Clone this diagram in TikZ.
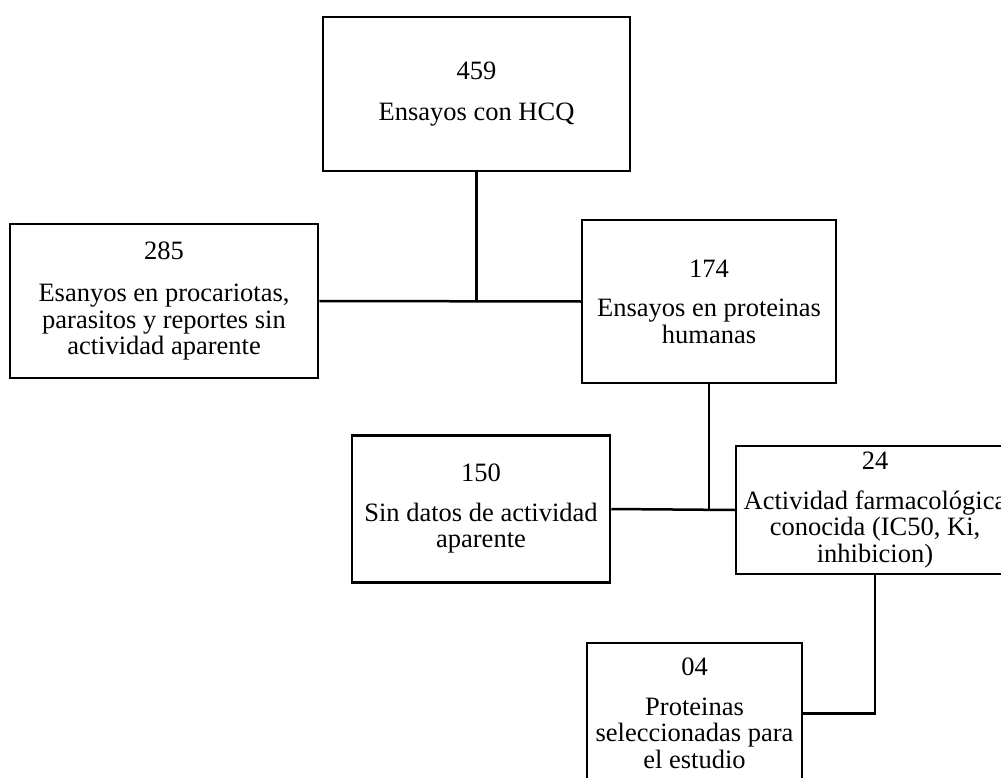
\documentclass[tikz,border=0pt]{standalone}
\usepackage{fontspec}
\setmainfont{Liberation Serif}
\begin{document}
\begin{tikzpicture}[x=1pt,y=-1pt,
  box/.style={draw, line width=2.5pt, align=center, inner sep=0pt, fill=white,
    font=\fontsize{26.5}{26.5}\selectfont},
  conn/.style={line width=2.5pt}]
\useasboundingbox (0,0) rectangle (1001,778);
\fill[white] (0,0) rectangle (1001,778);
\clip (0,0) rectangle (1001,778);
\node[box, minimum width=307pt, minimum height=154pt] (A) at (476.5,94) {459\\[14pt]Ensayos con HCQ};
\node[box, minimum width=308pt, minimum height=154pt] (B) at (164,301) {285\\[16pt]Esanyos en procariotas,\\parasitos y reportes sin\\actividad aparente};
\node[box, minimum width=254pt, minimum height=163pt] (C) at (709,301.5) {174\\[13pt]Ensayos en proteinas\\humanas};
\node[box, minimum width=258pt, minimum height=147pt] (D) at (481,509) {150\\[13pt]Sin datos de actividad\\aparente};
\node[box, minimum width=278pt, minimum height=128pt] (E) at (875,510) {24\\[13pt]Actividad farmacológica\\conocida (IC50, Ki,\\inhibicion)};
\node[box, minimum width=215pt, minimum height=141pt] (F) at (694.5,713.5) {04\\[13pt]Proteinas\\seleccionadas para\\el estudio};
\draw[conn] (A.south) -- (A.south |- B.east);
\draw[conn] (B.east) -- (C.west);
\draw[conn] (C.south) -- (C.south |- D.east);
\draw[conn] (D.east) -- (E.west);
\draw[conn] (E.south) |- (F.east);
\end{tikzpicture}
\end{document}
